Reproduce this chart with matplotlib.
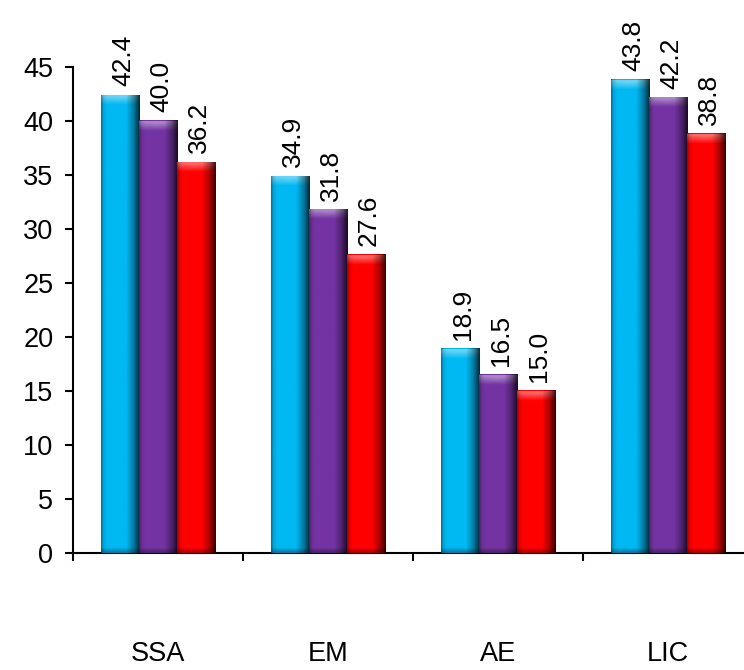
import numpy as np
import matplotlib.pyplot as plt
from matplotlib.colors import to_rgb

plt.rcParams['font.family'] = ['Liberation Sans', 'DejaVu Sans']

categories = ['SSA', 'EM', 'AE', 'LIC']
series_a = [42.4, 34.9, 18.9, 43.8]
series_b = [40.0, 31.8, 16.5, 42.2]
series_c = [36.2, 27.6, 15.0, 38.8]
colors = ['#00B8F2', '#7433A3', '#FF0000']

W = 0.224


def shade_bar(ax, rect, color):
    # horizontal cylinder-like shading plus a lighter cap at the top
    x0 = rect.get_x()
    w = rect.get_width()
    h = rect.get_height()
    base = np.array(to_rgb(color))
    t = np.linspace(0, 1, 64)
    f = np.interp(t, [0, 0.06, 0.15, 0.65, 0.85, 1.0], [0.62, 0.9, 1.0, 1.0, 0.65, 0.22])
    row = base[None, :] * f[:, None]
    img = np.repeat(row[None, :, :], 2, axis=0)
    ax.imshow(img, extent=(x0, x0 + w, 0, h), aspect='auto', zorder=3,
              interpolation='bilinear', origin='lower')
    cap = min(0.9, h)
    light = np.clip(base + 0.45 * (1 - base), 0, 1)
    cap_img = np.zeros((16, 64, 3))
    for i in range(16):
        vv = i / 15
        # V shaped highlight: stronger toward the middle of the bar
        edge = 1 - np.abs(t - 0.45) * 1.4
        mix = np.clip(0.8 * vv + 0.3 * edge * vv, 0, 0.9)
        cap_img[i] = row * (1 - mix[:, None]) + light[None, :] * (mix * f)[:, None]
    ax.imshow(cap_img, extent=(x0, x0 + w, h - cap, h), aspect='auto', zorder=4,
              interpolation='bilinear', origin='lower')
    bot = min(0.5, h)
    bot_img = np.zeros((8, 64, 3))
    for i in range(8):
        mix = 0.35 * (1 - i / 7)
        bot_img[i] = row * (1 - mix)
    ax.imshow(bot_img, extent=(x0, x0 + w, 0, bot), aspect='auto', zorder=4,
              interpolation='bilinear', origin='lower')


fig = plt.figure(figsize=(7.44, 6.70), dpi=100)
ax = fig.add_axes([0.098, 0.1746, 0.914, 0.7254])

x = np.arange(len(categories))
for k, (vals, c) in enumerate(zip([series_a, series_b, series_c], colors)):
    bars = ax.bar(x + (k - 1) * W, vals, W, color=c, zorder=2)
    for rect, v in zip(bars, vals):
        shade_bar(ax, rect, c)
        ax.text(rect.get_x() + rect.get_width() / 2 + 0.018, v + 0.8, '%.1f' % v,
                rotation=90, ha='center', va='bottom', fontsize=19,
                clip_on=False, zorder=5)

ax.set_xlim(-0.5, 3.5)
ax.set_ylim(0, 45)
ax.set_yticks(np.arange(0, 46, 5))
ax.tick_params(axis='y', labelsize=19.5, length=6, width=1.5, pad=8)

ax.set_xticks(np.arange(-0.5, 4, 1))
ax.set_xticklabels([])
ax.tick_params(axis='x', which='major', length=6, width=1.5)
ax.set_xticks(x, minor=True)
ax.set_xticklabels(categories, minor=True)
ax.tick_params(axis='x', which='minor', length=0, labelsize=19.5, pad=63)

for s in ['top', 'right']:
    ax.spines[s].set_visible(False)
ax.spines['left'].set_linewidth(1.5)
ax.spines['bottom'].set_linewidth(1.5)

fig.savefig('out.png', dpi=100)
